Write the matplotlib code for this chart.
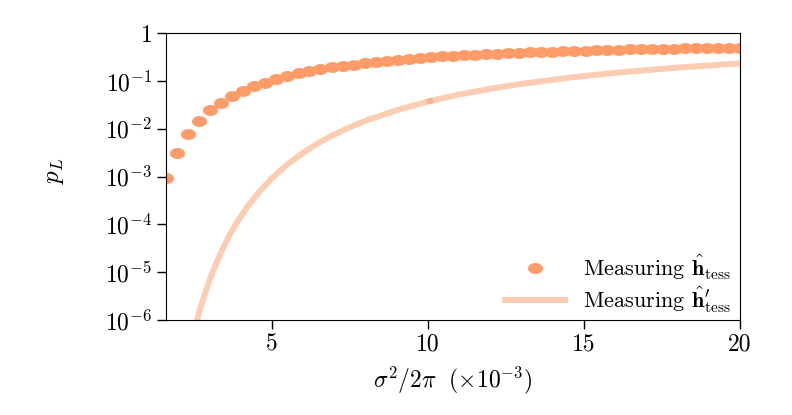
import matplotlib
matplotlib.use("Agg")
import matplotlib.pyplot as plt
import numpy as np
from matplotlib.path import Path

plt.rcParams['mathtext.fontset'] = 'cm'
plt.rcParams['font.family'] = 'serif'
plt.rcParams['font.serif'] = ['cmr10']
plt.rcParams['axes.unicode_minus'] = False
plt.rcParams['axes.formatter.use_mathtext'] = True

# dados (sigma^2/2pi em unidades de 1e-3)
x_pontos = [1.60, 1.95, 2.31, 2.66, 3.02, 3.37, 3.72, 4.08, 4.43, 4.78,
            5.14, 5.49, 5.85, 6.20, 6.55, 6.91, 7.26, 7.62, 7.97, 8.32,
            8.68, 9.03, 9.38, 9.74, 10.09, 10.45, 10.80, 11.15, 11.51, 11.86,
            12.22, 12.57, 12.92, 13.28, 13.63, 13.98, 14.34, 14.69, 15.05, 15.40,
            15.75, 16.11, 16.46, 16.82, 17.17, 17.52, 17.88, 18.23, 18.58, 18.94,
            19.29, 19.65, 20.00]
p_tess = [9.3e-4, 3.1e-3, 7.8e-3, 1.45e-2, 2.45e-2, 3.47e-2, 4.8e-2, 6.2e-2, 7.8e-2, 9.3e-2,
          0.110, 0.126, 0.145, 0.162, 0.178, 0.195, 0.209, 0.221, 0.234, 0.251,
          0.266, 0.279, 0.292, 0.305, 0.316, 0.327, 0.339, 0.347, 0.355, 0.363,
          0.372, 0.380, 0.389, 0.398, 0.405, 0.411, 0.418, 0.425, 0.432, 0.439,
          0.445, 0.451, 0.456, 0.461, 0.467, 0.472, 0.476, 0.481, 0.485, 0.489,
          0.492, 0.495, 0.499]

# curva do h' (duas partes, se encontram em x=10)
x_linha_a = [2.45, 2.55, 2.70, 2.85, 3.00, 3.20, 3.40, 3.65, 3.90, 4.20,
             4.60, 5.00, 5.50, 6.00, 6.60, 7.30, 8.00, 9.00, 10.06]
p_linha_a = [4.4e-7, 7.9e-7, 1.74e-6, 3.6e-6, 6.9e-6, 1.48e-5, 2.9e-5, 6.2e-5, 1.17e-4, 2.29e-4,
             4.9e-4, 9.3e-4, 1.82e-3, 3.16e-3, 5.6e-3, 9.5e-3, 1.48e-2, 2.45e-2, 3.8e-2]
x_linha_b = [10.06, 11.0, 12.0, 13.0, 14.5, 16.0, 18.0, 20.0]
p_linha_b = [3.8e-2, 5.2e-2, 6.9e-2, 8.7e-2, 0.117, 0.148, 0.191, 0.234]

y_ticks = [1e-6, 1e-5, 1e-4, 1e-3, 1e-2, 1e-1, 1]
y_labels = ['$10^{-6}$', '$10^{-5}$', '$10^{-4}$', '$10^{-3}$', '$10^{-2}$', '$10^{-1}$', '$1$']
x_ticks = [5, 10, 15, 20]

cor = '#fd9c68'

# marcador eliptico
t = np.linspace(0, 2 * np.pi, 60)
elipse = Path(np.column_stack([np.cos(t), 0.73 * np.sin(t)]), closed=True)

fig = plt.figure(figsize=(7.92, 4.15), dpi=100)
ax = fig.add_axes([0.2096, 0.229, 0.7247, 0.691])

ax.plot(x_pontos, p_tess, linestyle='none', marker=elipse, markersize=10.8,
        color=cor, markeredgewidth=0, label=r'Measuring $\hat{\mathbf{h}}_{\rm tess}$')
ax.plot(x_linha_a, p_linha_a, color=cor, alpha=0.5, linewidth=4.3,
        label=r"Measuring $\hat{\mathbf{h}}_{\rm tess}^{\prime}$")
ax.plot(x_linha_b, p_linha_b, color=cor, alpha=0.5, linewidth=4.3)

ax.set_yscale('log')
ax.set_xlim(1.6, 20)
ax.set_ylim(1e-6, 1)
ax.set_yticks(y_ticks)
ax.set_yticklabels(y_labels)
ax.yaxis.set_minor_locator(matplotlib.ticker.NullLocator())
ax.set_xticks(x_ticks)
ax.set_xticklabels([str(v) for v in x_ticks])
ax.tick_params(labelsize=17, length=6.5, width=1)

ax.set_xlabel(r'$\sigma^2/2\pi\ \ (\times 10^{-3})$', fontsize=17, labelpad=6)
ax.set_ylabel(r'$p_L$', fontsize=18)
ax.yaxis.set_label_coords(-0.175, 0.52)

ax.legend(loc='lower right', frameon=False, fontsize=16, numpoints=1,
          handlelength=2.7, handletextpad=0.8, borderaxespad=0.0,
          labelspacing=0.12, bbox_to_anchor=(1.0, -0.015))

fig.savefig('out.png', dpi=100)
